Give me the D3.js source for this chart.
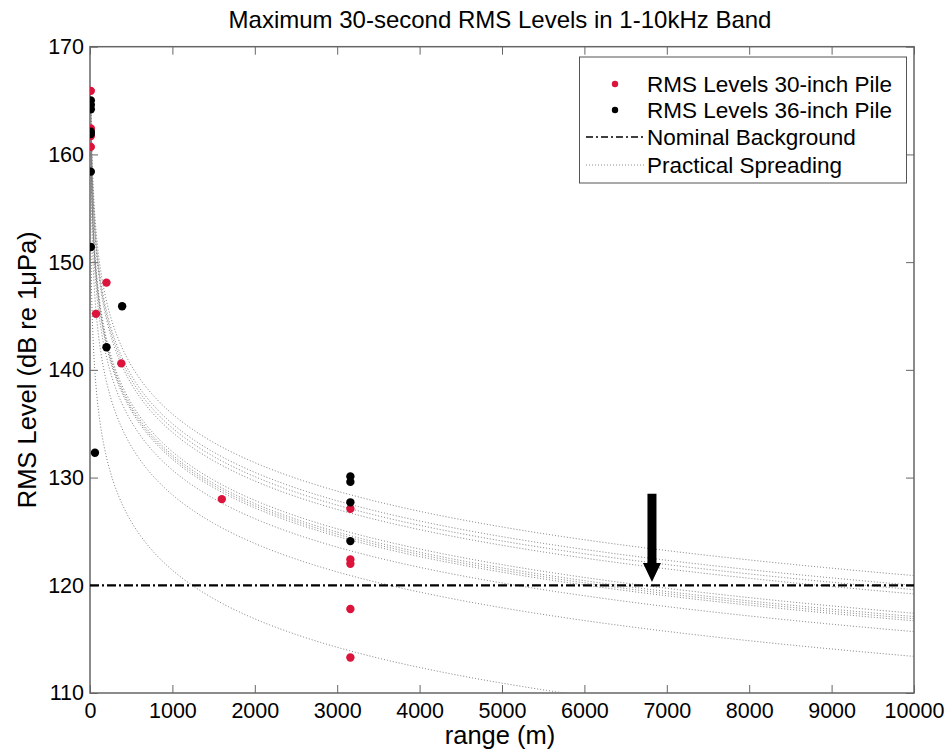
<!DOCTYPE html>
<html><head><meta charset="utf-8">
<script src="https://cdn.jsdelivr.net/npm/d3@7"></script>
<style>
body{margin:0;background:#fff;}
text{font-family:"Liberation Sans",Arial,sans-serif;fill:#000;}
</style></head>
<body><svg id="c" width="946" height="755"></svg>
<script>
// ---- data ----
const xTicks = [0,1000,2000,3000,4000,5000,6000,7000,8000,9000,10000];
const yTicks = [110,120,130,140,150,160,170];
const red30Range = [10,10,10,10,73,200,380,1600,3160,3160,3160,3160,3160];
const red30Level = [165.9,162.4,161.7,160.7,145.2,148.1,140.6,128.0,127.1,122.4,122.0,117.8,113.3];
const black36Range = [10,10,10,10,10,10,10,60,200,390,3160,3160,3160,3160];
const black36Level = [165.0,164.6,164.2,162.1,161.9,158.4,151.4,132.3,142.1,145.9,130.1,129.6,127.7,124.1];
const spreadingLevelAt10m = [165.9,165.0,164.6,164.2,162.4,162.1,161.9,161.7,160.7,158.4,151.4];
const spreadingCoeff = 15; // practical spreading: L = L10 - 15 log10(r/10)
const backgroundLevel = 120;
const arrowRange = 6820, arrowFrom = 128.5, arrowTo = 120.3;
const legendLabels = ["RMS Levels 30-inch Pile","RMS Levels 36-inch Pile","Nominal Background","Practical Spreading"];

// ---- layout ----
const svg = d3.select("#c");
const L=90, R=914, T=46.7, B=693;
const x = d3.scaleLinear().domain([0,10000]).range([L,R]);
const y = d3.scaleLinear().domain([110,170]).range([B,T]);
const red = "#dc143c";

svg.append("defs").append("clipPath").attr("id","clip")
  .append("rect").attr("x",L).attr("y",T).attr("width",R-L).attr("height",B-T);

// axes
const axisColor="#666";
function styleAxis(g){g.select(".domain").remove();g.selectAll("line").attr("stroke",axisColor).attr("stroke-width",1);}
svg.append("g").attr("transform",`translate(0,${B})`)
  .call(d3.axisBottom(x).tickValues(xTicks).tickFormat(d3.format("d")).tickSizeInner(-8).tickSizeOuter(0).tickPadding(10))
  .call(styleAxis).selectAll("text").attr("font-size",21.5).attr("font-family","Liberation Sans, Arial");
svg.append("g").attr("transform",`translate(0,${T})`)
  .call(d3.axisTop(x).tickValues(xTicks).tickFormat("").tickSizeInner(-8).tickSizeOuter(0)).call(styleAxis);
svg.append("g").attr("transform",`translate(${L},0)`)
  .call(d3.axisLeft(y).tickValues(yTicks).tickFormat(d3.format("d")).tickSizeInner(-8).tickSizeOuter(0).tickPadding(6))
  .call(styleAxis).selectAll("text").attr("font-size",21.5).attr("font-family","Liberation Sans, Arial");
svg.append("g").attr("transform",`translate(${R},0)`)
  .call(d3.axisRight(y).tickValues(yTicks).tickFormat("").tickSizeInner(-8).tickSizeOuter(0)).call(styleAxis);
svg.append("rect").attr("x",L).attr("y",T).attr("width",R-L).attr("height",B-T)
  .attr("fill","none").attr("stroke",axisColor).attr("stroke-width",1.5);

// plot layer
const plot = svg.append("g").attr("clip-path","url(#clip)");
const rangeSamples = d3.range(10,10001,10);
const line = d3.line().x(d=>x(d[0])).y(d=>y(d[1]));
spreadingLevelAt10m.forEach(L10=>{
  plot.append("path")
    .datum(rangeSamples.map(r=>[r, L10 - spreadingCoeff*Math.log10(r/10)]))
    .attr("d",line).attr("fill","none").attr("stroke","#7a7a7a")
    .attr("stroke-width",1).attr("stroke-dasharray","1,2");
});
plot.append("line").attr("x1",x(0)).attr("x2",x(10000))
  .attr("y1",y(backgroundLevel)).attr("y2",y(backgroundLevel))
  .attr("stroke","#000").attr("stroke-width",2.2).attr("stroke-dasharray","9,3,2,3");

// arrow
const ax=x(arrowRange), ay0=y(arrowFrom), ay1=y(arrowTo);
plot.append("path").attr("d",
  `M${ax-4.5},${ay0} L${ax+4.5},${ay0} L${ax+4.5},${ay1-19} L${ax+9},${ay1-19} L${ax},${ay1} L${ax-9},${ay1-19} L${ax-4.5},${ay1-19} Z`)
  .attr("fill","#000");

// points
plot.selectAll(".r").data(red30Range.map((r,i)=>[r,red30Level[i]])).enter()
  .append("circle").attr("cx",d=>x(d[0])).attr("cy",d=>y(d[1])).attr("r",4.2).attr("fill",red);
plot.selectAll(".b").data(black36Range.map((r,i)=>[r,black36Level[i]])).enter()
  .append("circle").attr("cx",d=>x(d[0])).attr("cy",d=>y(d[1])).attr("r",4.2).attr("fill","#000");

// legend
const lg = svg.append("g");
lg.append("rect").attr("x",579.5).attr("y",57).attr("width",327).attr("height",126)
  .attr("fill","#fff").attr("stroke","#555").attr("stroke-width",1);
const ly=[84,110,137,165];
legendLabels.forEach((t,i)=>{
  lg.append("text").attr("x",647).attr("y",ly[i]).attr("dy","0.35em").attr("font-size",22.5).text(t);
});
lg.append("circle").attr("cx",615).attr("cy",ly[0]).attr("r",3.2).attr("fill",red);
lg.append("circle").attr("cx",615).attr("cy",ly[1]).attr("r",3.2).attr("fill","#000");
lg.append("line").attr("x1",586).attr("x2",644).attr("y1",ly[2]).attr("y2",ly[2])
  .attr("stroke","#000").attr("stroke-width",1.5).attr("stroke-dasharray","7,3,2,3");
lg.append("line").attr("x1",586).attr("x2",644).attr("y1",ly[3]).attr("y2",ly[3])
  .attr("stroke","#8c8c8c").attr("stroke-width",1).attr("stroke-dasharray","1,2");

// titles
svg.append("text").attr("x",500).attr("y",28).attr("text-anchor","middle").attr("font-size",24)
  .text("Maximum 30-second RMS Levels in 1-10kHz Band");
svg.append("text").attr("x",500).attr("y",744).attr("text-anchor","middle").attr("font-size",25.5)
  .text("range (m)");
svg.append("text").attr("transform",`translate(36,${(T+B)/2}) rotate(-90)`).attr("text-anchor","middle")
  .attr("font-size",25.5).text("RMS Level (dB re 1μPa)");
</script></body></html>
